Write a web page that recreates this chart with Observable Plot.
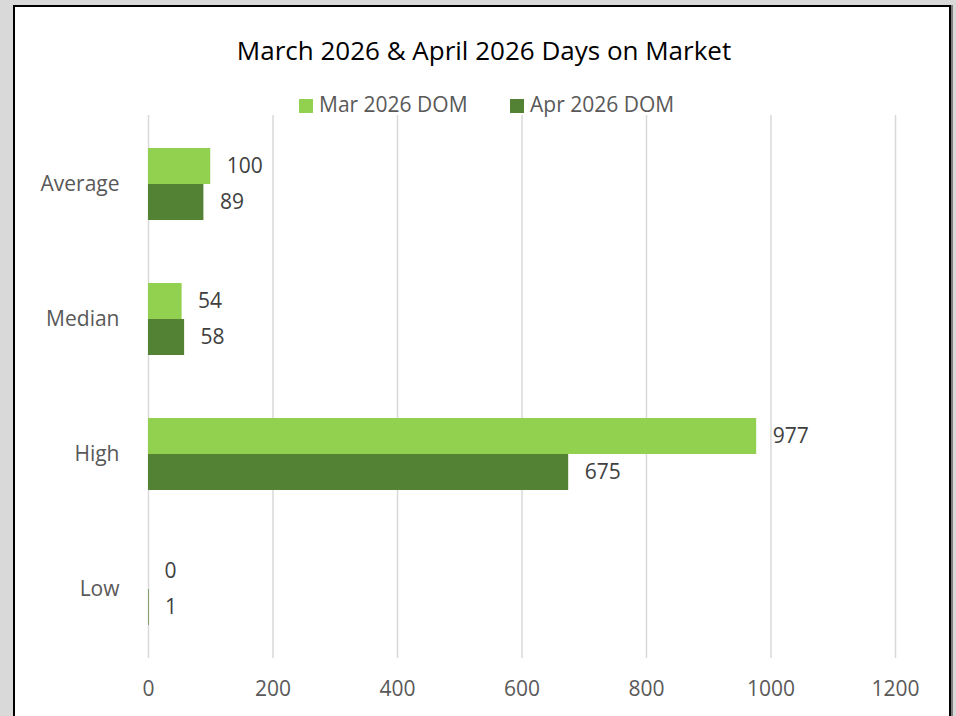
<!DOCTYPE html>
<html>
<head>
<meta charset="utf-8">
<script src="https://cdn.jsdelivr.net/npm/d3@7"></script>
<script src="https://cdn.jsdelivr.net/npm/@observablehq/plot@0.6"></script>
<style>
  html, body { margin: 0; padding: 0; background: #d9d9d9; width: 956px; height: 716px; overflow: hidden; }
  #panel { position: absolute; left: 13px; top: 5px; width: 934px; height: 800px; background: #fff; border: 2px solid #000; box-shadow: 2px 0 0 #7f7f7f; }
  #title { position: absolute; left: 0; top: 32px; width: 968px; text-align: center; font-family: "Open Sans", sans-serif; font-size: 26px; color: #000; line-height: 36px; }
  #legend { position: absolute; left: 0; top: 91px; width: 956px; font-family: "Open Sans", sans-serif; font-size: 21px; color: #595959; }
  .item { position: absolute; top: 0; white-space: nowrap; line-height: 26px; }
  .sw { display: inline-block; width: 14px; height: 14px; margin-right: 6px; vertical-align: -1px; }
  #chart { position: absolute; left: 0; top: 0; }
</style>
</head>
<body>
<div id="panel"></div>
<div id="chart"></div>
<div id="title"></div>
<div id="legend"></div>
<script>
const categories = ["Average", "Median", "High", "Low"];
const seriesNames = ["Mar 2026 DOM", "Apr 2026 DOM"];
const marValues = [100, 54, 977, 0];
const aprValues = [89, 58, 675, 1];
const xTicks = [0, 200, 400, 600, 800, 1000, 1200];
const colors = ["#92D050", "#548235"];
const titleText = "March 2026 & April 2026 Days on Market";

const mar = categories.map((c, i) => ({category: c, value: marValues[i]}));
const apr = categories.map((c, i) => ({category: c, value: aprValues[i]}));

document.getElementById("title").textContent = titleText;
const legend = document.getElementById("legend");
const legendX = [299, 510];
seriesNames.forEach((s, i) => {
  const d = document.createElement("div");
  d.className = "item";
  d.style.left = legendX[i] + "px";
  const sw = document.createElement("span");
  sw.className = "sw";
  sw.style.background = colors[i];
  d.appendChild(sw);
  d.appendChild(document.createTextNode(s));
  legend.appendChild(d);
});

const half = 36;
const chart = Plot.plot({
  width: 956,
  height: 716,
  marginLeft: 148,
  marginRight: 61,
  marginTop: 115,
  marginBottom: 58,
  style: { fontFamily: "'Open Sans', sans-serif", fontSize: "21px", color: "#595959", background: "transparent" },
  x: { domain: [0, 1200] },
  y: { domain: categories, paddingInner: 0.47, paddingOuter: 0.235, align: 0.5, label: null },
  marks: [
    Plot.ruleX(xTicks, { stroke: "#d9d9d9", strokeWidth: 1.5 }),
    Plot.barX(mar, { x: "value", y: "category", fill: colors[0], insetBottom: half }),
    Plot.barX(apr, { x: "value", y: "category", fill: colors[1], insetTop: half }),
    Plot.text(mar, { x: "value", y: "category", text: d => String(d.value), dy: -half / 2, dx: 16, textAnchor: "start", fill: "#404040", fontSize: 21 }),
    Plot.text(apr, { x: "value", y: "category", text: d => String(d.value), dy: half / 2, dx: 16, textAnchor: "start", fill: "#404040", fontSize: 21 }),
    Plot.axisX({ ticks: xTicks, tickFormat: d => String(d), tickSize: 0, tickPadding: 23, label: null, fontSize: 21 }),
    Plot.axisY({ tickSize: 0, tickPadding: 29, label: null, fontSize: 21 })
  ]
});
document.getElementById("chart").appendChild(chart);
</script>
</body>
</html>
